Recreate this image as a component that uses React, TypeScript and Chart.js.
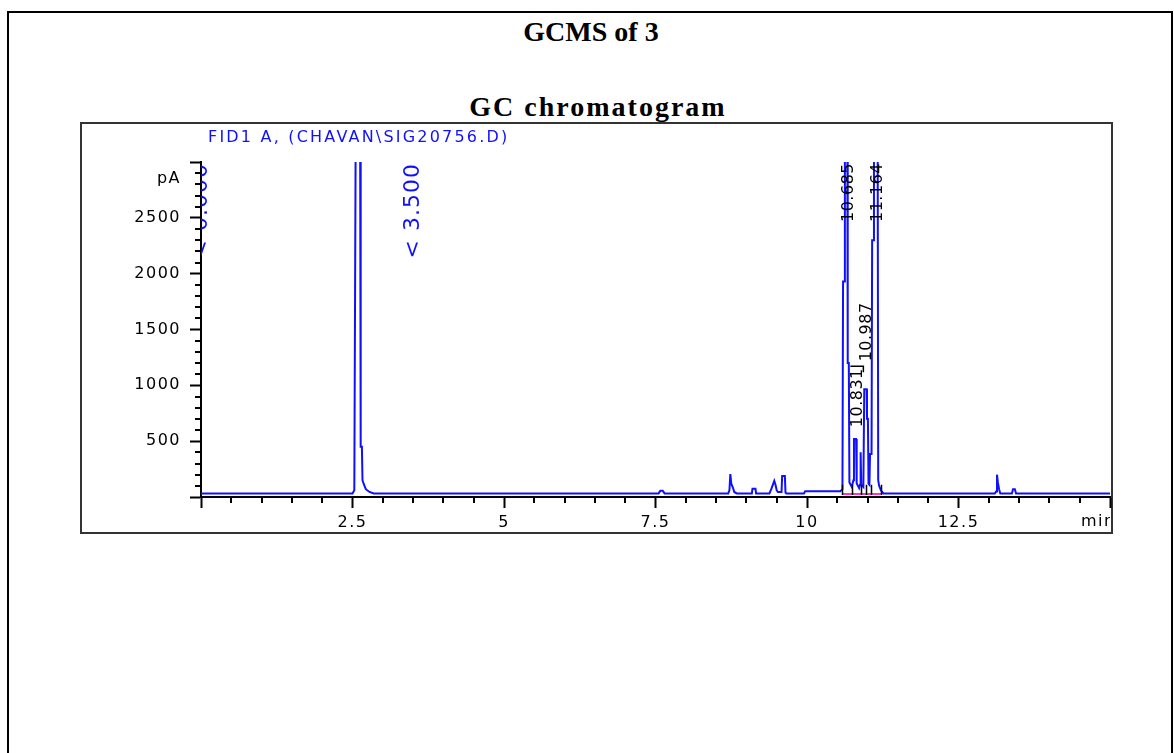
import React, { useEffect, useRef } from 'react';
import { Chart, registerables } from 'chart.js';

Chart.register(...registerables);

// ---- Data ----
const retentionTimes = [
  0, 2.5, 2.53, 2.555, 2.625, 2.635, 2.655, 2.665, 2.69, 2.72, 2.78, 2.85,
  7.55, 7.58, 7.62, 7.65,
  8.7, 8.72, 8.735, 8.75, 8.78, 8.8, 8.84,
  9.09, 9.1, 9.15, 9.16,
  9.38, 9.41, 9.43, 9.46, 9.48, 9.5, 9.52, 9.58, 9.59, 9.635, 9.645, 9.66,
  9.95, 9.97, 10.55, 10.585, 10.595, 10.615, 10.625, 10.665, 10.672, 10.69, 10.7,
  10.74, 10.765, 10.775, 10.81, 10.82, 10.86, 10.875, 10.885, 10.895, 10.93,
  10.945, 10.985, 10.99, 11.005, 11.015, 11.03, 11.04, 11.065, 11.075, 11.095,
  11.105, 11.165, 11.175, 11.19, 11.22, 11.26,
  13.1, 13.12, 13.135, 13.15, 13.17, 13.19,
  13.38, 13.4, 13.43, 13.45,
  15,
];
const signalPA = [
  32, 32, 60, 3600, 3600, 450, 450, 150, 110, 70, 45, 32,
  32, 55, 55, 32,
  32, 60, 205, 120, 80, 45, 32,
  32, 75, 75, 32,
  32, 70, 100, 145, 110, 60, 45, 45, 187, 187, 40, 32,
  32, 52, 52, 70, 1930, 1930, 3600, 3600, 1200, 1200, 130,
  90, 150, 520, 520, 120, 80, 110, 400, 110, 90,
  965, 965, 700, 700, 120, 110, 385, 385, 2300, 2300,
  3600, 3600, 150, 100, 60, 32,
  32, 50, 200, 130, 70, 32,
  32, 70, 70, 32,
  32,
];

// integration baseline (pink) under the main cluster
const baselineTimes = [10.58, 11.22];
const baselineValues = [27, 27];
// integration start/stop marks
const integrationMarks = [10.576, 10.74, 10.89, 10.97, 11.05, 11.22];

// peak retention-time labels
const peakTimes = [10.685, 10.831, 10.987, 11.164];
const peakLabelBase = [3000, 625, 1215, 3000]; // pA level where label text starts

// timed events
const eventTimes = [0, 3.5];

// axis
const xMin = 0, xMax = 15, xMajor = 2.5, xMinor = 0.5;
const yMin = 0, yMax = 3000, yMajor = 500, yMinor = 100;
const xTickLabels = ['2.5', '5', '7.5', '10', '12.5'];
const yTickLabels = ['500', '1000', '1500', '2000', '2500'];

const signalTitle = 'FID1 A, (CHAVAN\\SIG20756.D)';

const BLUE = '#1010ff';
const LABEL_FONT = '"DejaVu Sans", Verdana, sans-serif';

export default function App() {
  const ref = useRef<HTMLCanvasElement>(null);

  useEffect(() => {
    document.body.style.margin = '0';
    const trace = retentionTimes.map((t, i) => ({ x: t, y: signalPA[i] }));
    const base = baselineTimes.map((t, i) => ({ x: t, y: baselineValues[i] }));

    const decorPlugin = {
      id: 'decor',
      beforeDraw(chart: any) {
        chart.ctx.letterSpacing = '1.5px';
      },
      afterDraw(chart: any) {
        const ctx = chart.ctx as CanvasRenderingContext2D;
        const area = chart.chartArea;
        const xs = chart.scales.x;
        const ys = chart.scales.y;
        ctx.save();
        // minor ticks
        ctx.strokeStyle = '#000';
        ctx.lineWidth = 2;
        ctx.beginPath();
        for (let v = xMin + xMinor; v < xMax; v += xMinor) {
          if (Math.abs(v / xMajor - Math.round(v / xMajor)) < 1e-6) continue;
          const px = Math.round(xs.getPixelForValue(v));
          ctx.moveTo(px, area.bottom);
          ctx.lineTo(px, area.bottom + 6);
        }
        for (let v = yMin + yMinor; v < yMax; v += yMinor) {
          if (Math.abs(v / yMajor - Math.round(v / yMajor)) < 1e-6) continue;
          const py = Math.round(ys.getPixelForValue(v));
          ctx.moveTo(area.left, py);
          ctx.lineTo(area.left - 6, py);
        }
        ctx.stroke();

        // integration marks
        ctx.lineWidth = 1.5;
        ctx.beginPath();
        integrationMarks.forEach((t) => {
          const px = Math.round(xs.getPixelForValue(t)) + 0.5;
          ctx.moveTo(px, ys.getPixelForValue(110));
          ctx.lineTo(px, ys.getPixelForValue(18));
        });
        ctx.stroke();

        // pA unit label
        ctx.letterSpacing = '1.5px';
        ctx.fillStyle = '#000';
        ctx.font = `16px ${LABEL_FONT}`;
        ctx.textAlign = 'right';
        ctx.textBaseline = 'middle';
        ctx.fillText('pA', area.left - 20, area.top + 17);

        // signal title
        ctx.fillStyle = BLUE;
        ctx.letterSpacing = '2.2px';
        ctx.textAlign = 'left';
        ctx.fillText(signalTitle, area.left + 7, area.top - 24);

        // min label at end of x axis
        ctx.save();
        ctx.beginPath();
        ctx.rect(0, area.bottom, area.right, 60);
        ctx.clip();
        ctx.fillStyle = '#000';
        ctx.letterSpacing = '1.5px';
        ctx.textBaseline = 'middle';
        ctx.fillText('min', area.right - 29, area.bottom + 25);
        ctx.restore();

        // peak labels
        ctx.fillStyle = '#000';
        ctx.font = `16px ${LABEL_FONT}`;
        ctx.letterSpacing = '0.5px';
        peakTimes.forEach((t, i) => {
          const txt = t.toFixed(3);
          const w = ctx.measureText(txt).width;
          const px = xs.getPixelForValue(t);
          let bottom = ys.getPixelForValue(peakLabelBase[i]);
          bottom = Math.max(bottom, area.top + 1 + w);
          ctx.save();
          ctx.translate(px, bottom);
          ctx.rotate(-Math.PI / 2);
          ctx.textAlign = 'left';
          ctx.textBaseline = 'middle';
          ctx.fillText(txt, 0, 0);
          ctx.restore();
          if (peakLabelBase[i] < 1000) {
            const top = bottom - w - 2;
            ctx.beginPath();
            ctx.lineWidth = 1.5;
            ctx.moveTo(px - 7, top);
            ctx.lineTo(px + 6, top);
            ctx.lineTo(px + 6, top + 6);
            ctx.stroke();
          }
        });

        // timed events
        ctx.save();
        ctx.beginPath();
        ctx.rect(area.left, area.top, area.right - area.left, area.bottom - area.top);
        ctx.clip();
        ctx.fillStyle = BLUE;
        ctx.font = `22px ${LABEL_FONT}`;
        ctx.letterSpacing = '1px';
        eventTimes.forEach((t) => {
          const px = xs.getPixelForValue(t);
          ctx.save();
          ctx.translate(px, area.top + 1);
          ctx.rotate(-Math.PI / 2);
          ctx.textAlign = 'right';
          ctx.textBaseline = 'middle';
          ctx.fillText('< ' + t.toFixed(3), 0, 0);
          ctx.restore();
        });
        ctx.restore();

        ctx.restore();
        ctx.letterSpacing = '0px';
      },
    };

    const chart = new Chart(ref.current!, {
      type: 'line',
      data: {
        datasets: [
          {
            data: base,
            borderColor: '#ff33cc',
            borderWidth: 2,
            pointRadius: 0,
            tension: 0,
          },
          {
            data: trace,
            borderColor: BLUE,
            borderWidth: 2,
            pointRadius: 0,
            tension: 0,
            clip: 0,
          },
        ],
      },
      options: {
        responsive: false,
        animation: false,
        layout: { padding: { top: 162, right: 64, left: 82, bottom: 221 } },
        plugins: {
          legend: { display: false },
          tooltip: { enabled: false },
          title: { display: false },
        },
        scales: {
          x: {
            type: 'linear',
            min: xMin,
            max: xMax,
            afterFit: (s: any) => { s.height = 35; },
            grid: {
              display: true,
              drawOnChartArea: false,
              drawTicks: true,
              tickLength: 11,
              tickColor: '#000',
              tickWidth: 2,
            },
            border: { display: true, color: '#000', width: 2 },
            ticks: {
              stepSize: xMajor,
              maxRotation: 0,
              autoSkip: false,
              padding: 5,
              color: '#000',
              font: { family: LABEL_FONT, size: 16 },
              callback: (v: any) => {
                const s = String(+Number(v).toFixed(1));
                return xTickLabels.includes(s) ? s : '';
              },
            },
          },
          y: {
            type: 'linear',
            min: yMin,
            max: yMax,
            afterFit: (s: any) => { s.width = 119; },
            grid: {
              display: true,
              drawOnChartArea: false,
              drawTicks: true,
              tickLength: 11,
              tickColor: '#000',
              tickWidth: 2,
            },
            border: { display: true, color: '#000', width: 2 },
            ticks: {
              stepSize: yMajor,
              autoSkip: false,
              padding: 9,
              color: '#000',
              font: { family: LABEL_FONT, size: 16 },
              callback: (v: any) => {
                const s = String(v);
                return yTickLabels.includes(s) ? s : '';
              },
            },
          },
        },
      },
      plugins: [decorPlugin],
    });
    return () => chart.destroy();
  }, []);

  const serif = '"Liberation Serif", "Times New Roman", serif';
  return (
    <div style={{ position: 'relative', width: 1174, height: 753, overflow: 'hidden', background: '#fff' }}>
      <div
        style={{
          position: 'absolute', left: 7, top: 11, width: 1166, height: 800,
          border: '2px solid #000', boxSizing: 'border-box',
        }}
      />
      <div
        style={{
          position: 'absolute', left: 0, width: 1182, top: 18, textAlign: 'center',
          font: `bold 28px ${serif}`, lineHeight: '28px', color: '#000',
        }}
      >
        GCMS of 3
      </div>
      <div
        style={{
          position: 'absolute', left: 0, width: 1196, top: 93, textAlign: 'center',
          font: `bold 28px ${serif}`, lineHeight: '28px', color: '#000', letterSpacing: '2px',
        }}
      >
        GC chromatogram
      </div>
      <div
        style={{
          position: 'absolute', left: 80, top: 122, width: 1033, height: 412,
          border: '2px solid #333', boxSizing: 'border-box', background: '#fff',
        }}
      />
      <canvas
        ref={ref}
        width={1174}
        height={753}
        style={{ position: 'absolute', left: 0, top: 0, display: 'block', width: 1174, height: 753 }}
      />
    </div>
  );
}
